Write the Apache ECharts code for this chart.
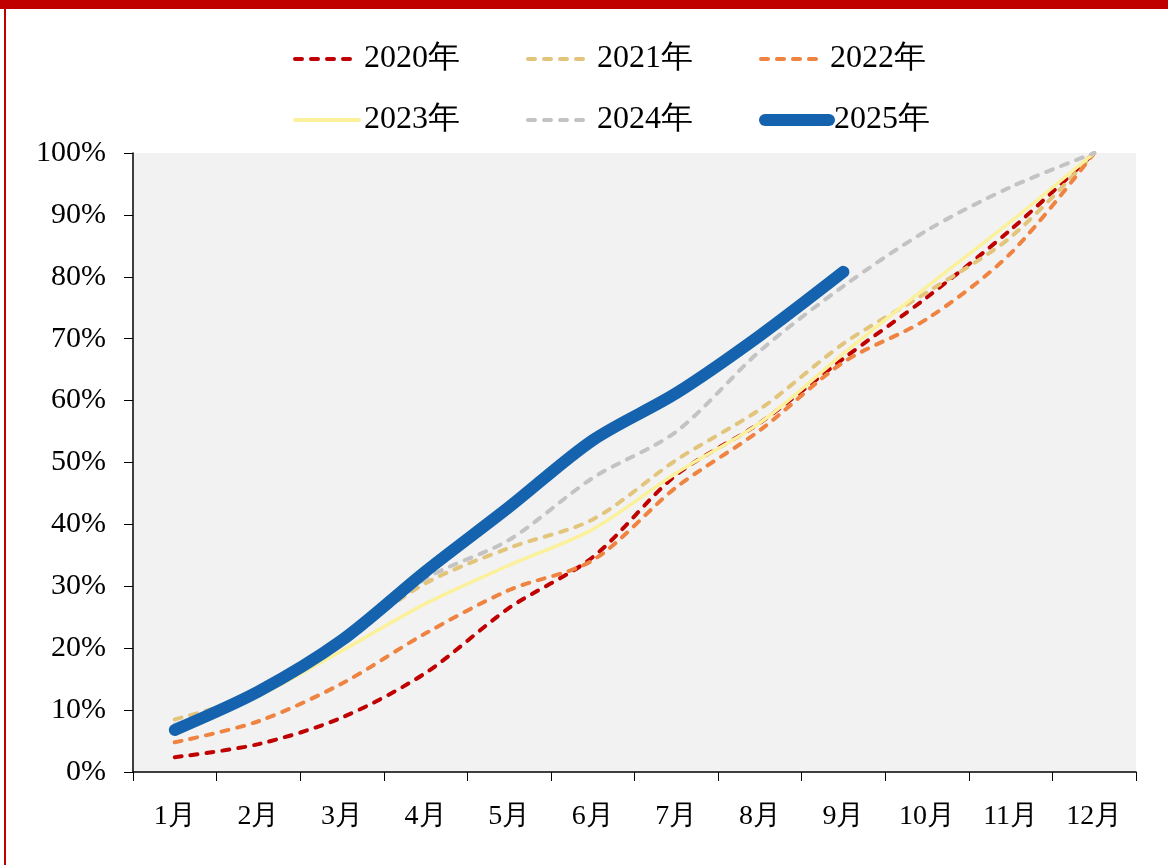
<!DOCTYPE html>
<html>
<head>
<meta charset="utf-8">
<script src="https://cdn.jsdelivr.net/npm/echarts@6/dist/echarts.min.js"></script>
<style>
  html, body { margin: 0; padding: 0; background: #fff; }
  #chart { width: 1168px; height: 865px; }
</style>
</head>
<body>
<div id="chart"></div>
<script>
var months = ['1月','2月','3月','4月','5月','6月','7月','8月','9月','10月','11月','12月'];
var s2020 = [2.4, 4.5, 8.8, 16, 26.5, 34.7, 48, 56.4, 66.8, 76.7, 87.6, 100];
var s2021 = [8.5, 12.8, 21.2, 30.5, 36.2, 40.8, 50.4, 58.6, 69.2, 77.5, 86.4, 100];
var s2022 = [4.8, 8.2, 14.3, 22.4, 29.4, 34.2, 46, 55.2, 66.2, 73.2, 83.8, 100];
var s2023 = [7.0, 12.3, 19.6, 27.2, 33.4, 39.2, 48.3, 56.4, 67.6, 78.4, 88.9, 100];
var s2024 = [7.6, 12.8, 20.5, 31.2, 37.5, 47.5, 55, 68, 78.5, 87.5, 94.5, 100];
var s2025 = [6.8, 13, 21.3, 32.4, 42.8, 53.6, 61.2, 70.5, 80.8];

var font = 'Liberation Serif, Times New Roman, serif';
var colors = {
    '2020年': '#c00000', '2021年': '#e2c47b', '2022年': '#ef8442',
    '2023年': '#fbf19c', '2024年': '#c3c3c3', '2025年': '#1563ae'
};
var dash = [7, 9];
var myChart = echarts.init(document.getElementById('chart'));

function dashed(name, data) {
    return {
        name: name, type: 'line', data: data, smooth: 0.3, symbol: 'none',
        lineStyle: { color: colors[name], width: 4, type: dash, cap: 'round' },
        itemStyle: { color: colors[name] }
    };
}

function legendItem(name) {
    var solid = name === '2023年' || name === '2025年';
    return {
        name: name,
        itemStyle: { opacity: 0 },
        lineStyle: {
            color: colors[name],
            width: name === '2025年' ? 12 : 4,
            type: solid ? 'solid' : dash,
            cap: 'round'
        }
    };
}

function legendRow(names, top) {
    return {
        data: names.map(legendItem),
        left: 288, top: top,
        itemWidth: 64, itemHeight: 14, itemGap: 66,
        textStyle: { fontFamily: font, fontSize: 32, color: '#000' }
    };
}

var option = {
    animation: false,
    graphic: [
        { type: 'rect', shape: { x: 0, y: 0, width: 1168, height: 9 }, style: { fill: '#c00000' } },
        { type: 'rect', shape: { x: 4, y: 0, width: 2, height: 865 }, style: { fill: '#c00000' } }
    ],
    legend: [
        legendRow(['2020年', '2021年', '2022年'], 38),
        legendRow(['2023年', '2024年', '2025年'], 99)
    ],
    grid: {
        left: 133, right: 32, top: 153, bottom: 93,
        show: true, backgroundColor: '#f2f2f2', borderWidth: 0
    },
    xAxis: {
        type: 'category',
        data: months,
        boundaryGap: true,
        axisLine: { lineStyle: { color: '#000', width: 1.5 } },
        axisTick: { show: true, length: 9, lineStyle: { color: '#000' } },
        axisLabel: { fontFamily: font, fontSize: 28, color: '#000', margin: 31 }
    },
    yAxis: {
        type: 'value',
        min: 0, max: 100, interval: 10,
        splitLine: { show: false },
        axisLine: { show: true, lineStyle: { color: '#000', width: 1.5 } },
        axisTick: { show: true, length: 9, lineStyle: { color: '#000' } },
        axisLabel: { fontFamily: font, fontSize: 30, color: '#000', margin: 27, formatter: '{value}%' }
    },
    series: [
        dashed('2020年', s2020),
        dashed('2021年', s2021),
        dashed('2022年', s2022),
        {
            name: '2023年', type: 'line', data: s2023, smooth: 0.3, symbol: 'none',
            lineStyle: { color: colors['2023年'], width: 3.5 },
            itemStyle: { color: colors['2023年'] }
        },
        dashed('2024年', s2024),
        {
            name: '2025年', type: 'line', data: s2025, smooth: 0.3, symbol: 'none',
            lineStyle: { color: colors['2025年'], width: 12, cap: 'round' },
            itemStyle: { color: colors['2025年'] }
        }
    ]
};

myChart.setOption(option);
</script>
</body>
</html>
